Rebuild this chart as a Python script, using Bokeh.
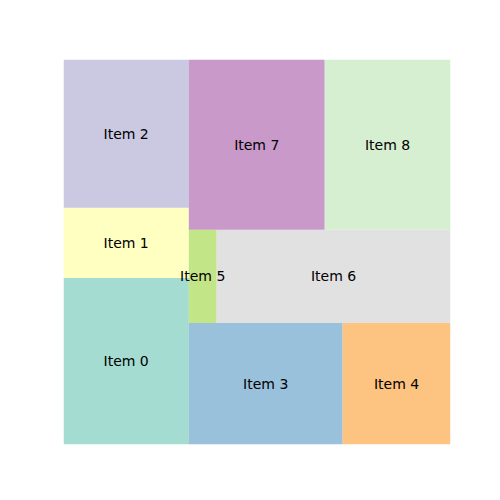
from bokeh.plotting import figure
from bokeh.models import Range1d, ColumnDataSource
from bokeh.core.properties import value
from bokeh.embed import file_html
from bokeh.resources import INLINE

labels = ["Item 0", "Item 1", "Item 2", "Item 3", "Item 4", "Item 5", "Item 6", "Item 7", "Item 8"]
values = [1400, 590, 1245, 1254, 880, 174, 1461, 1551, 1436]
colors = ["#8dd3c7", "#ffffb3", "#bebada", "#80b1d3", "#fdb462", "#b3de69", "#d9d9d9", "#bc80bd", "#ccebc5"]

W, H = 100.0, 100.0


def layoutrow(sizes, x, y, dx, dy):
    width = sum(sizes) / dy
    rects = []
    for s in sizes:
        rects.append((x, y, width, s / width))
        y += s / width
    return rects


def layoutcol(sizes, x, y, dx, dy):
    height = sum(sizes) / dx
    rects = []
    for s in sizes:
        rects.append((x, y, s / height, height))
        x += s / height
    return rects


def layout(sizes, x, y, dx, dy):
    return layoutrow(sizes, x, y, dx, dy) if dx >= dy else layoutcol(sizes, x, y, dx, dy)


def leftover(sizes, x, y, dx, dy):
    if dx >= dy:
        width = sum(sizes) / dy
        return x + width, y, dx - width, dy
    height = sum(sizes) / dx
    return x, y + height, dx, dy - height


def worst(sizes, x, y, dx, dy):
    return max(max(r[2] / r[3], r[3] / r[2]) for r in layout(sizes, x, y, dx, dy))


def squarify(sizes, x, y, dx, dy):
    if not sizes:
        return []
    if len(sizes) == 1:
        return layout(sizes, x, y, dx, dy)
    i = 1
    while i < len(sizes) and worst(sizes[:i], x, y, dx, dy) >= worst(sizes[:i + 1], x, y, dx, dy):
        i += 1
    cur, rem = sizes[:i], sizes[i:]
    lx, ly, ldx, ldy = leftover(cur, x, y, dx, dy)
    return layout(cur, x, y, dx, dy) + squarify(rem, lx, ly, ldx, ldy)


total = float(sum(values))
norm = [v * W * H / total for v in values]
rects = squarify(norm, 0.0, 0.0, W, H)

src = ColumnDataSource(dict(
    left=[r[0] for r in rects],
    right=[r[0] + r[2] for r in rects],
    bottom=[r[1] for r in rects],
    top=[r[1] + r[3] for r in rects],
    cx=[r[0] + r[2] / 2 for r in rects],
    cy=[r[1] + r[3] / 2 for r in rects],
    label=labels,
    color=colors,
))

p = figure(width=500, height=500, output_backend="svg", toolbar_location=None,
           x_range=Range1d(0, W), y_range=Range1d(0, H),
           x_axis_type=None, y_axis_type=None,
           min_border_left=63, min_border_right=50, min_border_top=59, min_border_bottom=56)
p.grid.visible = False
p.outline_line_color = None
p.background_fill_color = "white"

p.quad(left="left", right="right", bottom="bottom", top="top", source=src,
       fill_color="color", fill_alpha=0.8, line_color=None)
p.text(x="cx", y="cy", text="label", source=src, text_align="center", text_baseline="middle",
       text_font=value("DejaVu Sans"), text_font_size="14px", text_color="black")

open("out.html", "w").write(file_html(p, INLINE))
